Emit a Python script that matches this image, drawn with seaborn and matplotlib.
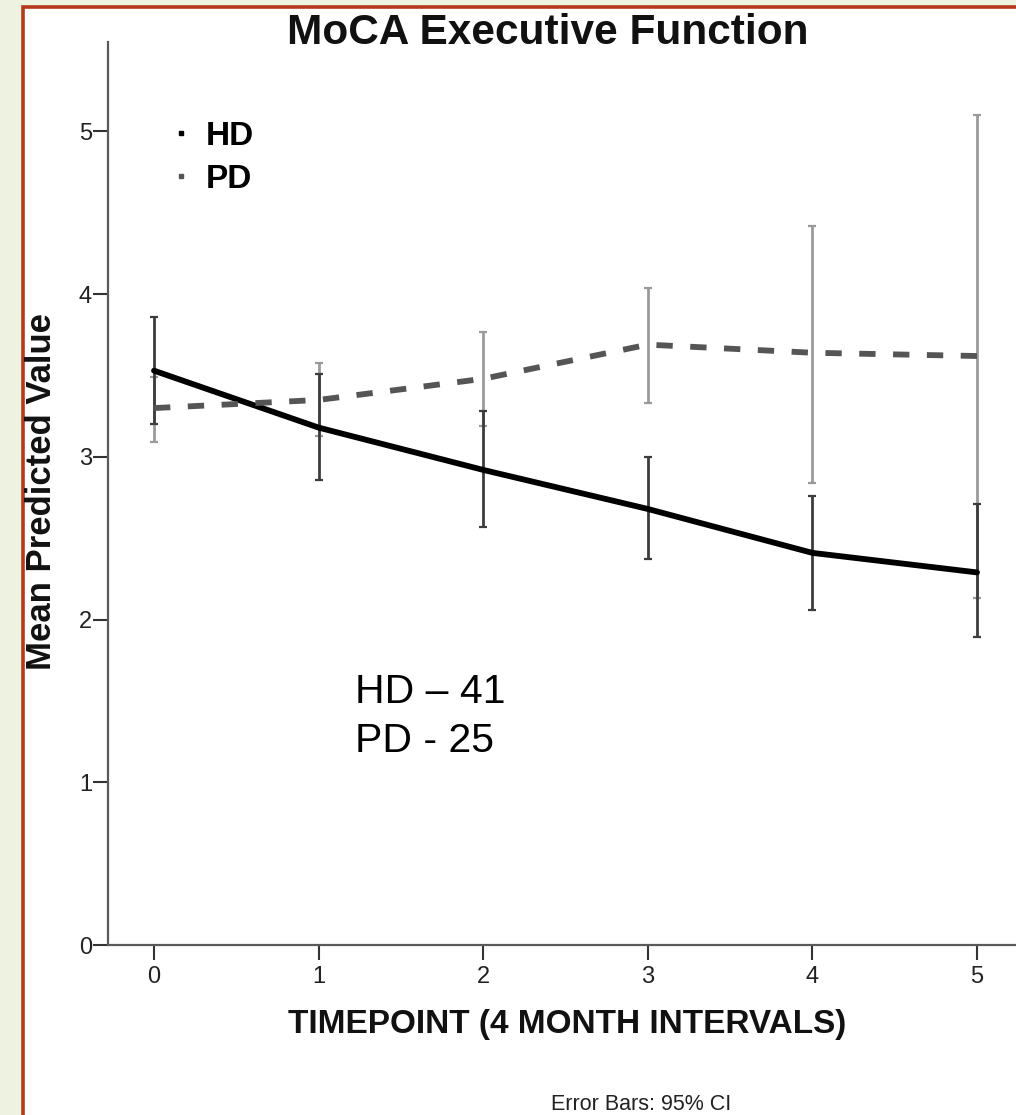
import matplotlib
matplotlib.use("Agg")
import matplotlib.pyplot as plt
import numpy as np
import pandas as pd
import seaborn as sns
from matplotlib.patches import Rectangle
from matplotlib.lines import Line2D

# ---- data ----
timepoints = [0, 1, 2, 3, 4, 5]
hd_mean = [3.53, 3.18, 2.92, 2.68, 2.41, 2.29]
hd_lo = [3.20, 2.86, 2.57, 2.37, 2.06, 1.89]
hd_hi = [3.86, 3.51, 3.28, 3.00, 2.76, 2.71]
pd_mean = [3.30, 3.35, 3.48, 3.69, 3.64, 3.62]
pd_lo = [3.09, 3.13, 3.19, 3.33, 2.84, 2.13]
pd_hi = [3.49, 3.58, 3.77, 4.04, 4.42, 5.10]
groups = ["HD", "PD"]
yticks = [0, 1, 2, 3, 4, 5]
title = "MoCA Executive Function"
xlabel = "TIMEPOINT (4 MONTH INTERVALS)"
ylabel = "Mean Predicted Value"
note_lines = ["HD \u2013 41", "PD - 25"]
footer = "Error Bars: 95% CI"

df = pd.DataFrame({
    "Timepoint": timepoints * 2,
    "Value": hd_mean + pd_mean,
    "Group": ["HD"] * len(timepoints) + ["PD"] * len(timepoints),
})

sns.set_theme(style="white")
plt.rcParams["font.family"] = ["Liberation Sans", "DejaVu Sans"]

W, H = 1016, 1115
fig = plt.figure(figsize=(W / 100, H / 100), dpi=100)
fig.patch.set_facecolor("#eef2e1")

# white panel with red frame (extends off the right/bottom edges)
frame = Rectangle((23 / W, -0.1), 1.2, 1 - 6.5 / H + 0.1,
                  transform=fig.transFigure, facecolor="white",
                  edgecolor="#b5381c", linewidth=2.6, zorder=-10)
fig.patches.append(frame)

ax_left, ax_bottom = 108 / W, (H - 945) / H
ax = fig.add_axes([ax_left, ax_bottom, 1 - ax_left, (945 - 42) / H])
ax.set_facecolor("none")
ax.set_zorder(1)

colors = {"HD": "#000000", "PD": "#555555"}
err_colors = {"HD": "#3c3c3c", "PD": "#9a9a9a"}

# error bars
for g, m, lo, hi in [("PD", pd_mean, pd_lo, pd_hi), ("HD", hd_mean, hd_lo, hd_hi)]:
    m = np.array(m); lo = np.array(lo); hi = np.array(hi)
    ax.errorbar(timepoints, m, yerr=[m - lo, hi - m], fmt="none",
                ecolor=err_colors[g], elinewidth=2.0, capsize=3,
                capthick=1.6, zorder=2)

sns.lineplot(data=df, x="Timepoint", y="Value", hue="Group", style="Group",
             palette=colors, dashes={"HD": "", "PD": (2.8, 3.0)},
             linewidth=4.2, errorbar=None, legend=False, ax=ax, zorder=3)

ax.set_xlim(-0.2795, 5.237)
ax.set_ylim(0, 5.55)
ax.set_xticks(timepoints)
ax.set_yticks(yticks)
ax.set_xlabel("")
ax.set_ylabel("")
sns.despine(ax=ax)
for s in ["left", "bottom"]:
    ax.spines[s].set_color("#5a5a5a")
    ax.spines[s].set_linewidth(1.6)
ax.tick_params(axis="both", direction="out", length=10.8, width=1.5,
               color="#333333", labelsize=17, labelcolor="#222222")
ax.tick_params(axis="y", pad=0.8)
ax.tick_params(axis="x", pad=4)
ax.tick_params(left=True, bottom=True)

# legend with tiny handles (as in the original)
handles = [Line2D([], [], color=colors[g], marker="s", markersize=2.6,
                  linestyle="none") for g in groups]
leg = ax.legend(handles, groups, loc="upper left",
                bbox_to_anchor=(159 / W, (H - 104) / H),
                bbox_transform=fig.transFigure, frameon=False,
                handlelength=0.3, handletextpad=0.6, borderpad=0,
                labelspacing=0.36, labelcolor="#000000",
                prop={"weight": "bold", "size": 24})

fig.text(548 / W, (H - 33) / H, title, ha="center", va="center",
         fontsize=30.5, fontweight="bold", color="#111111")
fig.text(42 / W, (H - 492) / H, ylabel, ha="center", va="center",
         rotation=90, fontsize=25, fontweight="bold", color="#111111")
fig.text(567 / W, (H - 1025) / H, xlabel, ha="center", va="center",
         fontsize=24, fontweight="bold", color="#111111")
fig.text(641 / W, (H - 1110) / H, footer, ha="center", va="baseline",
         fontsize=15.5, color="#222222")
fig.text(355 / W, (H - 703) / H, note_lines[0], ha="left", va="baseline",
         fontsize=29.5, color="#000000")
fig.text(355 / W, (H - 752) / H, note_lines[1], ha="left", va="baseline",
         fontsize=29.5, color="#000000")

fig.savefig("out.png", dpi=100, facecolor=fig.get_facecolor())
